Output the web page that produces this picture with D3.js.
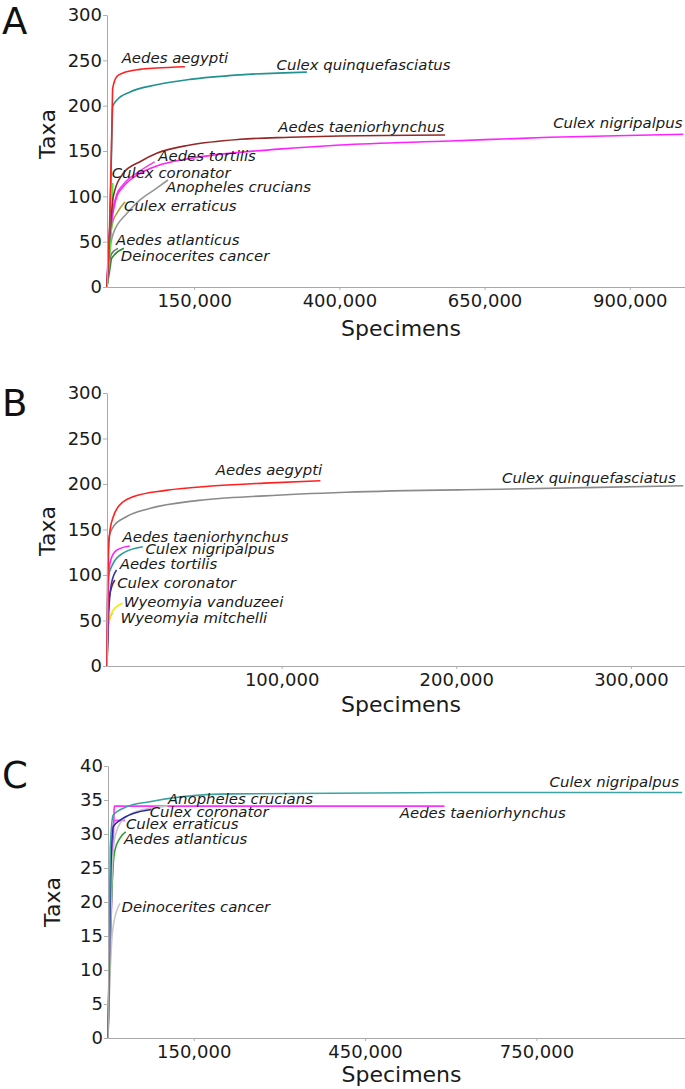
<!DOCTYPE html>
<html>
<head>
<meta charset="utf-8">
<script src="https://cdn.jsdelivr.net/npm/d3@7"></script>
<style>
  body { margin: 0; background: #fff; }
  svg { display: block; font-family: "DejaVu Sans", Verdana, sans-serif; }
  .tick text { fill: #1a1a1a; }
  .sp { font-style: italic; fill: #1a1a1a; }
</style>
</head>
<body>
<svg id="chart" width="685" height="1089"></svg>
<script>
// accumulation curves: [specimens (thousands), taxa]

// ---- panel A
const namesA = ["Aedes aegypti", "Culex quinquefasciatus", "Aedes taeniorhynchus", "Culex nigripalpus",
  "Aedes tortilis", "Culex coronator", "Anopheles crucians", "Culex erraticus", "Aedes atlanticus", "Deinocerites cancer"];
const valuesA = [
  [[0,0],[5,80],[8.5,180],[9.8,219],[16.7,232],[27.5,236],[56.8,240],[85.5,241.5],[134,243]],
  [[0,0],[5,70],[8.5,170],[9.8,199],[16.7,206],[39.6,215],[85.5,223],[143,229],[229,234],[344,237]],
  [[0,0],[3,40],[7,75],[10.8,99.6],[28,125.4],[56.8,138.2],[85.5,147.5],[143,156.6],[229,162.9],[315,165.1],[401,166.5],[582,167.6]],
  [[0,0],[3,45],[8,72],[16.7,99.6],[28,110.6],[56.8,125.4],[85.5,133.5],[143,141.9],[229,148.6],[315,153],[401,156.6],[590,161],[762,165.1],[992,168.4]],
  [[0,0],[3,50],[8,78],[16.7,102],[28,113],[56.8,128],[82,138]],
  [[0,0],[6,50],[9.5,93],[9.8,114.7]],
  [[0,0],[4,35],[10.8,59],[34,81],[56.8,96],[85.5,109],[105,118]],
  [[0,0],[5,50],[10,72],[16.7,81],[31,94]],
  [[0,0],[4,25],[8,37],[19,42.6]],
  [[0,0],[5,20],[8,31.6],[29,42.7]]
];
const labelAtA = [[25.3,247.4],[292,239.3],[295,171.3],[768,175],[88.3,139.3],[8.1,120.5],[101.5,104.4],[29.3,83.8],[15.5,46.3],[23.6,29]];
const colorsA = ["#ff2020","#219191","#972727","#ff22ff","#e645e6","#3df03d","#959595","#a89f3a","#6e6e6e","#2e8b2e"];
const yTicksA = [0,50,100,150,200,250,300];
const xTicksA = [150000,400000,650000,900000];

// ---- panel B
const namesB = ["Aedes aegypti", "Culex quinquefasciatus", "Aedes taeniorhynchus", "Culex nigripalpus",
  "Aedes tortilis", "Culex coronator", "Wyeomyia vanduzeei", "Wyeomyia mitchelli"];
const valuesB = [
  [[0,0],[0.4,80],[0.73,116],[1.7,149],[3.6,164],[7.3,177],[14.9,186],[33.7,193],[62,198],[90.2,201],[122.2,203.6]],
  [[0,0],[0.3,90],[0.73,138],[3.6,153],[11.1,164],[24.3,173],[52.5,182],[90.2,187],[137,191],[231,194.5],[330,198]],
  [[0,0],[0.5,70],[1.7,113],[4.5,125.6],[7.3,129],[13,131.9]],
  [[0,0],[0.3,60],[0.7,98],[3.6,113],[9.2,124],[20.5,131]],
  [[0,0],[1,60],[2.6,91],[5.5,105.5]],
  [[0,0],[0.5,45],[1.3,76],[4.5,94.5]],
  [[0,0],[0.3,25],[0.7,43],[3.6,61.5],[8.9,69]],
  [[0,0],[0.5,40],[1.2,50],[3,58]]
];
const labelAtB = [[62.3,210],[226.2,200.8],[8.9,136.6],[22,123],[7.3,106.2],[5.8,85.4],[9.6,65.2],[7.7,47.6]];
const colorsB = ["#ff2020","#8a8a8a","#ff22ff","#2a9a9a","#3535a5","#8b2020","#eeee00","#40b0b0"];
const yTicksB = [0,50,100,150,200,250,300];
const xTicksB = [100000,200000,300000];

// ---- panel C (first in list is drawn on top)
const namesC = ["Culex nigripalpus", "Culex coronator", "Anopheles crucians", "Culex erraticus",
  "Aedes atlanticus", "Deinocerites cancer", "Aedes taeniorhynchus"];
const valuesC = [
  [[0,0],[2,12],[4,28],[9.2,32.8],[32.5,34],[73,34.75],[131,35.5],[218,35.9],[595,36.1],[1005,36.1]],
  [[0,0],[2,10],[5,25],[9.2,31.1],[20.9,32],[44,33],[76,33.6]],
  [[0,0],[3,12],[7,24],[12,29.5],[25,32],[50,33.3],[104,34.1]],
  [[0,0],[4,20],[8,30.5],[12,32],[29.6,32]],
  [[0,0],[3,12],[7,22],[9.2,25.7],[12,27.6],[21,29.4],[31,30.3]],
  [[0,0],[4,10],[8.2,15.9],[21,19.8]],
  [[0,0],[3,10],[8,25],[10.5,33],[11,34.1],[589,34.1]]
];
const labelAtC = [[773,36.9],[73,32.45],[104.9,34.4],[31.3,30.7],[27.8,28.6],[23.8,18.6],[510.8,32.3]];
const colorsC = ["#3ba3a3","#2a2aa5","#c4c4c4","#ff40ff","#2ca02c","#c8c8c8","#ff30ff"];
const yTicksC = [0,5,10,15,20,25,30,35,40];
const xTicksC = [150000,450000,750000];

// panel layout (pixels)
const panels = [
  { letter: "A", names: namesA, values: valuesA, labelAt: labelAtA, colors: colorsA, yTicks: yTicksA, xTicks: xTicksA,
    left: 107, right: 685, top: 15, bottom: 287, xMax: 995000, letterY: 34, taxaX: 55, taxaY: 134, specY: 336 },
  { letter: "B", names: namesB, values: valuesB, labelAt: labelAtB, colors: colorsB, yTicks: yTicksB, xTicks: xTicksB,
    left: 107, right: 685, top: 393, bottom: 666, xMax: 331000, letterY: 416, taxaX: 55, taxaY: 531, specY: 712 },
  { letter: "C", names: namesC, values: valuesC, labelAt: labelAtC, colors: colorsC, yTicks: yTicksC, xTicks: xTicksC,
    left: 108, right: 685, top: 766, bottom: 1038, xMax: 1010000, letterY: 788, taxaX: 60, taxaY: 902, specY: 1082 }
];

const svg = d3.select("#chart");
const fmt = d3.format(",");

panels.forEach(p => {
  const g = svg.append("g");

  const x = d3.scaleLinear().domain([0, p.xMax]).range([p.left, p.right]);
  const y = d3.scaleLinear().domain([0, d3.max(p.yTicks)]).range([p.bottom, p.top]);

  // curves
  const line = d3.line()
    .x(d => x(d[0] * 1000))
    .y(d => y(d[1]))
    .curve(d3.curveMonotoneX);

  // draw in reverse so the first series ends up on top
  p.values.slice().reverse().forEach((v, ri) => {
    const i = p.values.length - 1 - ri;
    g.append("path")
      .attr("d", line(v))
      .attr("fill", "none")
      .attr("stroke", p.colors[i])
      .attr("stroke-width", 1.6);
  });

  // axes
  const yAxis = g.append("g")
    .attr("transform", `translate(${p.left},0)`)
    .call(d3.axisLeft(y).tickValues(p.yTicks).tickSizeInner(4).tickSizeOuter(0).tickPadding(1));
  yAxis.selectAll("text").attr("font-size", 18).attr("font-family", "DejaVu Sans");

  const xAxis = g.append("g")
    .attr("transform", `translate(0,${p.bottom})`)
    .call(d3.axisBottom(x).tickValues(p.xTicks).tickFormat(fmt).tickSizeInner(3).tickSizeOuter(0).tickPadding(4));
  xAxis.selectAll("text").attr("font-size", 18).attr("font-family", "DejaVu Sans");

  g.selectAll(".domain").attr("stroke", "#a8a8a8");
  g.selectAll(".tick line").attr("stroke", "#b0b0b0");

  // species labels
  p.names.forEach((n, i) => {
    g.append("text")
      .attr("class", "sp")
      .attr("x", x(p.labelAt[i][0] * 1000))
      .attr("y", y(p.labelAt[i][1]))
      .attr("font-size", 14.9)
      .text(n);
  });

  // axis titles
  g.append("text")
    .attr("text-anchor", "middle")
    .attr("font-size", 22)
    .attr("fill", "#1a1a1a")
    .attr("transform", `translate(${p.taxaX},${p.taxaY}) rotate(-90)`)
    .text("Taxa");

  g.append("text")
    .attr("text-anchor", "middle")
    .attr("font-size", 22)
    .attr("fill", "#1a1a1a")
    .attr("x", (p.left + p.right) / 2 + 5)
    .attr("y", p.specY)
    .text("Specimens");

  // panel letter
  g.append("text")
    .attr("x", 2)
    .attr("y", p.letterY)
    .attr("font-size", 37)
    .attr("fill", "#111")
    .text(p.letter);
});
</script>
</body>
</html>
